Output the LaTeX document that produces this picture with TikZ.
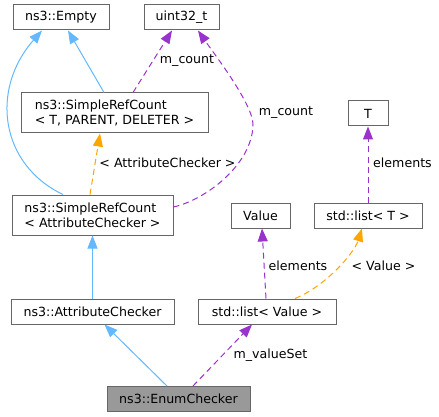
\documentclass[tikz,border=0pt]{standalone}
\usepackage{fontspec}
\setmainfont{DejaVu Sans}
\usetikzlibrary{arrows.meta}
\definecolor{edgeblue}{HTML}{63B8FF}
\definecolor{edgepurple}{HTML}{9A32CD}
\definecolor{edgeorange}{HTML}{FFA500}
\definecolor{boxgray}{HTML}{666666}
\definecolor{curgray}{HTML}{999999}

\begin{document}
\begin{tikzpicture}[x=1pt, y=-1pt,
    klass/.style ={rectangle, draw=boxgray, line width=1pt, fill=white, inner sep=0pt, minimum height=25pt, font=\fontsize{12.6}{15}\selectfont, align=left},
    current/.style ={klass, fill=curgray},
    inherit/.style ={draw=edgeblue, line width=1pt, -{Triangle[width=10pt,length=13pt]}},
    usage/.style ={draw=edgepurple, line width=1pt, dash pattern=on 6pt off 4pt, -{Triangle[width=10pt,length=13pt]}},
    templ/.style ={draw=edgeorange, line width=1pt, dash pattern=on 6pt off 4pt, -{Triangle[width=10pt,length=13pt]}},
    edgelabel/.style ={inner sep=0pt, font=\fontsize{12.6}{15}\selectfont}]
   \useasboundingbox (0,0) rectangle (439,417);

   \node[klass, minimum width=96pt] (empty) at (61,17.5) {ns3::Empty};
   \node[klass, minimum width=75pt] (uint) at (181.5,17.5) {uint32\_t};
   \node[klass, minimum width=187pt, minimum height=40pt] (refT) at (114.5,113) {ns3::SimpleRefCount\\< T, PARENT, DELETER >};
   \node[klass, minimum width=40pt] (T) at (368,113.5) {T};
   \node[klass, minimum width=161pt, minimum height=40pt] (refAC) at (92.5,215) {ns3::SimpleRefCount\\< AttributeChecker >};
   \node[klass, minimum width=59pt] (value) at (260.5,215.5) {Value};
   \node[klass, minimum width=108pt] (listT) at (368,215.5) {std::list< T >};
   \node[klass, minimum width=163pt] (checker) at (92.5,311.5) {ns3::AttributeChecker};
   \node[klass, minimum width=138pt] (listV) at (267,311.5) {std::list< Value >};
   \node[current, minimum width=143pt] (enum) at (178.5,399) {ns3::EnumChecker};

   \draw[inherit] ([xshift=-29.5pt]refAC.north) .. controls +(-63,-30) and +(-52,59) .. ([xshift=-19pt]empty.south);
   \draw[inherit] ([xshift=-10.5pt]refT.north) -- ([xshift=7pt]empty.south);
   \draw[usage] ([xshift=18.5pt]refT.north) -- ([xshift=-9.5pt]uint.south);
   \draw[usage] ([yshift=8pt]refAC.east) .. controls (205,200) and (252,165) .. (253,125)
      .. controls (253.5,105) and (215,55) .. ([xshift=16.5pt]uint.south);
   \draw[templ] ([xshift=-2.5pt]refAC.north) -- ([xshift=-14.5pt]refT.south);
   \draw[inherit] (checker) -- (refAC);
   \draw[inherit] ([xshift=-11.5pt]enum.north) -- ([xshift=12pt]checker.south);
   \draw[usage] ([xshift=14.5pt]enum.north) -- ([xshift=-15pt]listV.south);
   \draw[usage] ([xshift=-1pt]listV.north) -- ([xshift=1.5pt]value.south);
   \draw[templ] ([xshift=28pt]listV.north) .. controls +(30,-12) and +(-8,25) .. ([xshift=-6pt]listT.south);
   \draw[usage] (listT) -- (T);

   \node[edgelabel] (lcount) at (187,61) {m\_count};
   \node[edgelabel] (lcountb) at (286,113) {m\_count};
   \node[edgelabel] (lchecker) at (167.5,163) {< AttributeChecker >};
   \node[edgelabel] (lelemT) at (402.5,163) {elements};
   \node[edgelabel] (lelemV) at (298,266) {elements};
   \node[edgelabel] (lvalue) at (383.5,266) {< Value >};
   \node[edgelabel] (lvalueset) at (270.5,355) {m\_valueSet};
\end{tikzpicture}
\end{document}
